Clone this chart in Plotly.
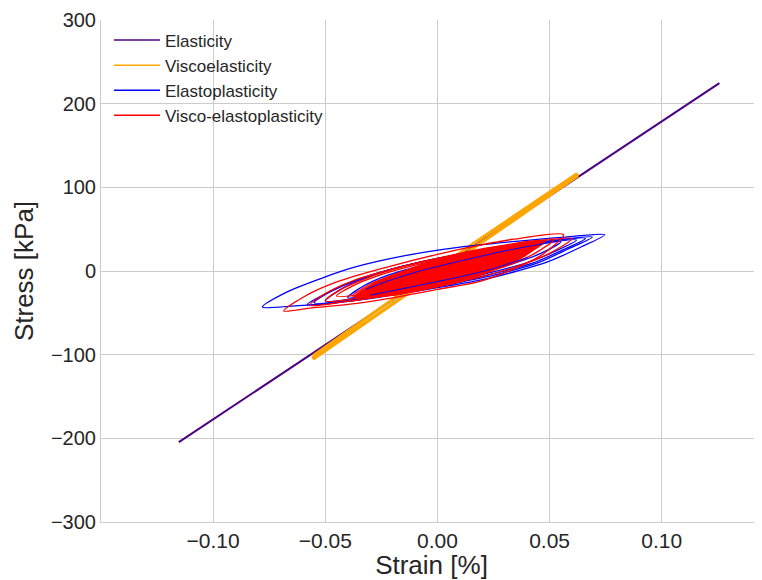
import plotly.graph_objects as go

# ---------------- data ----------------
elastic_strain = [-0.1153, 0.1257]
elastic_stress = [-204.5, 224.5]

# viscoelastic: loading branch and unloading branch (thin loop)
visco_strain = [-0.0553, -0.02, 0.02, 0.0622, 0.0622, 0.02, -0.02, -0.0553, -0.0553]
visco_stress = [-101.0, -34.0, 40.0, 116.0, 113.0, 35.0, -39.0, -105.0, -101.0]

# elastoplastic loops (None separates loops)
ep_strain = [
    -0.078, -0.067, -0.052, -0.037, -0.015, 0.010, 0.035, 0.057, 0.0746,
    0.064, 0.049, 0.034, 0.019, 0.000, -0.025, -0.045, -0.060, -0.078, None,
    -0.058, -0.048, -0.035, -0.015, 0.010, 0.035, 0.055, 0.069,
    0.058, 0.045, 0.028, 0.005, -0.020, -0.040, -0.058, None,
    -0.055, -0.046, -0.033, -0.012, 0.012, 0.038, 0.066,
    0.055, 0.042, 0.022, 0.000, -0.025, -0.055, None,
    -0.050, -0.042, -0.030, -0.010, 0.012, 0.036, 0.062,
    0.052, 0.040, 0.020, 0.000, -0.022, -0.050, None,
    -0.040, -0.033, -0.022, -0.005, 0.015, 0.035, 0.055,
    0.046, 0.035, 0.018, 0.000, -0.018, -0.040, None,
    -0.030, -0.024, -0.014, 0.000, 0.015, 0.030, 0.045,
    0.038, 0.028, 0.014, 0.000, -0.014, -0.030, None,
]
ep_stress = [
    -43.0, -25.0, -9.0, 4.5, 18.0, 28.5, 35.5, 40.6, 43.4,
    28.7, 10.8, -1.2, -11.0, -20.0, -31.0, -38.0, -41.0, -43.0, None,
    -40.0, -25.0, -10.0, 6.0, 20.0, 31.0, 37.5, 40.6,
    26.0, 10.0, -3.0, -16.0, -28.0, -36.0, -40.0, None,
    -38.0, -22.0, -8.0, 8.0, 21.0, 31.0, 39.0,
    24.0, 9.0, -5.0, -17.0, -29.0, -38.0, None,
    -36.0, -20.0, -6.0, 9.0, 20.0, 29.0, 37.0,
    23.0, 10.0, -4.0, -15.0, -26.0, -36.0, None,
    -32.0, -18.0, -5.0, 8.0, 19.0, 27.0, 35.0,
    21.0, 10.0, -3.0, -13.0, -22.0, -32.0, None,
    -28.0, -15.0, -4.0, 7.0, 17.0, 25.0, 32.0,
    20.0, 10.0, -2.0, -11.0, -19.0, -28.0, None,
]

# visco-elastoplastic loops
vep_strain = [
    -0.0685, -0.0595, -0.0446, -0.022, 0.000, 0.019, 0.034, 0.0562,
    0.0464, 0.0343, 0.0194, 0.000, -0.020, -0.040, -0.056, -0.0685, None,
    -0.057, -0.050, -0.038, -0.018, 0.005, 0.030, 0.060,
    0.050, 0.036, 0.018, 0.000, -0.022, -0.042, -0.057, None,
    -0.050, -0.043, -0.032, -0.014, 0.008, 0.030, 0.052,
    0.044, 0.032, 0.015, -0.002, -0.022, -0.050, None,
    -0.045, -0.038, -0.027, -0.010, 0.010, 0.030, 0.048,
    0.040, 0.028, 0.012, -0.004, -0.022, -0.045, None,
    -0.038, -0.031, -0.020, -0.005, 0.012, 0.030, 0.045,
    0.038, 0.026, 0.010, -0.006, -0.022, -0.038, None,
]
vep_stress = [
    -47.8, -30.7, -12.8, 5.0, 20.0, 31.0, 38.0, 43.4,
    19.0, 2.8, -12.0, -22.0, -32.0, -40.0, -44.0, -47.8, None,
    -41.0, -27.0, -12.0, 4.0, 18.0, 29.0, 39.0,
    21.0, 6.0, -8.0, -18.0, -29.0, -37.0, -41.0, None,
    -36.0, -22.0, -9.0, 6.0, 19.0, 29.0, 38.0,
    22.0, 7.0, -6.0, -17.0, -27.0, -36.0, None,
    -30.0, -18.0, -6.0, 7.0, 19.0, 28.0, 36.0,
    21.0, 7.0, -6.0, -16.0, -24.0, -30.0, None,
    -30.0, -17.0, -5.0, 7.0, 18.0, 27.0, 34.0,
    19.0, 6.0, -6.0, -15.0, -23.0, -30.0, None,
]

# dense centre of visco-elastoplastic loops
vep_core_strain = [-0.037, -0.029, -0.016, 0.000, 0.015, 0.030, 0.047,
                   0.039, 0.026, 0.011, -0.004, -0.020, -0.037]
vep_core_stress = [-31.0, -16.0, -1.0, 14.0, 24.0, 31.0, 36.0,
                   18.0, 2.0, -12.0, -21.0, -29.0, -31.0]

# a few elastoplastic streaks visible through the dense centre
ep_top_strain = [-0.032, -0.020, -0.005, 0.012, 0.030, 0.048, None,
                 0.040, 0.025, 0.010, -0.008, -0.030, None]
ep_top_stress = [-22.0, -10.0, 2.0, 13.0, 24.0, 33.0, None,
                 16.0, 3.0, -7.0, -17.0, -29.0, None]

names = ["Elasticity", "Viscoelasticity", "Elastoplasticity", "Visco-elastoplasticity"]
colors = ["#4B0082", "#FFA500", "#0000FF", "#FF0000"]

x_ticks = [-0.10, -0.05, 0.00, 0.05, 0.10]
y_ticks = [-300, -200, -100, 0, 100, 200, 300]

# ---------------- figure ----------------
fig = go.Figure()
# legend entries (thin lines, as in the reference legend)
for nm, c in zip(names, colors):
    fig.add_trace(go.Scatter(x=[None], y=[None], mode="lines", name=nm,
                             line=dict(color=c, width=1.5)))

fig.add_trace(go.Scatter(x=elastic_strain, y=elastic_stress, mode="lines", showlegend=False,
                         name=names[0], line=dict(color=colors[0], width=2)))
fig.add_trace(go.Scatter(x=visco_strain, y=visco_stress, mode="lines", showlegend=False,
                         name=names[1], line=dict(color=colors[1], width=3.2)))
fig.add_trace(go.Scatter(x=ep_strain, y=ep_stress, mode="lines", showlegend=False, name=names[2],
                         line=dict(color=colors[2], width=1.3, shape="spline", smoothing=0.8)))
fig.add_trace(go.Scatter(x=vep_strain, y=vep_stress, mode="lines", showlegend=False, name=names[3],
                         line=dict(color=colors[3], width=1.3, shape="spline", smoothing=0.8)))
fig.add_trace(go.Scatter(x=vep_core_strain, y=vep_core_stress, mode="lines", showlegend=False,
                         fill="toself", fillcolor=colors[3], name=names[3],
                         line=dict(color=colors[3], width=1.3, shape="spline", smoothing=0.8)))
fig.add_trace(go.Scatter(x=ep_top_strain, y=ep_top_stress, mode="lines", showlegend=False,
                         name=names[2],
                         line=dict(color=colors[2], width=1.0, shape="spline", smoothing=0.8)))

font_fam = "Liberation Sans, Arial, sans-serif"
txt = "#262626"
# the page body adds an 8px offset; the figure is sized so the plot area
# sits at x 101..762, y 20..522 of the window
fig.update_layout(
    width=754, height=572,
    margin=dict(l=93, r=0, t=12, b=58),
    paper_bgcolor="white", plot_bgcolor="white",
    font=dict(family=font_fam, color=txt),
    showlegend=True,
    legend=dict(x=0.012, y=0.995, xanchor="left", yanchor="top",
                bgcolor="rgba(0,0,0,0)", borderwidth=0,
                font=dict(size=17, family=font_fam, color=txt),
                itemwidth=46, tracegroupgap=0),
)
fig.update_xaxes(
    range=[-0.15, 0.1447], tickvals=x_ticks, tickformat=".2f", automargin=False,
    showgrid=True, gridcolor="#cccccc", gridwidth=1, zeroline=False,
    showline=True, linecolor="#cccccc", linewidth=1, mirror=False,
    ticks="", tickfont=dict(size=21, family=font_fam, color=txt),
    title=dict(text="Strain [%]", font=dict(size=26, family=font_fam, color=txt), standoff=2),
)
fig.update_yaxes(
    range=[-300, 300], tickvals=y_ticks, automargin=False,
    showgrid=True, gridcolor="#cccccc", gridwidth=1, zeroline=False,
    showline=True, linecolor="#cccccc", linewidth=1, mirror=False,
    ticks="", tickfont=dict(size=20, family=font_fam, color=txt),
    title=dict(text="Stress [kPa]", font=dict(size=26, family=font_fam, color=txt), standoff=9),
)

fig.write_html("out.html")
